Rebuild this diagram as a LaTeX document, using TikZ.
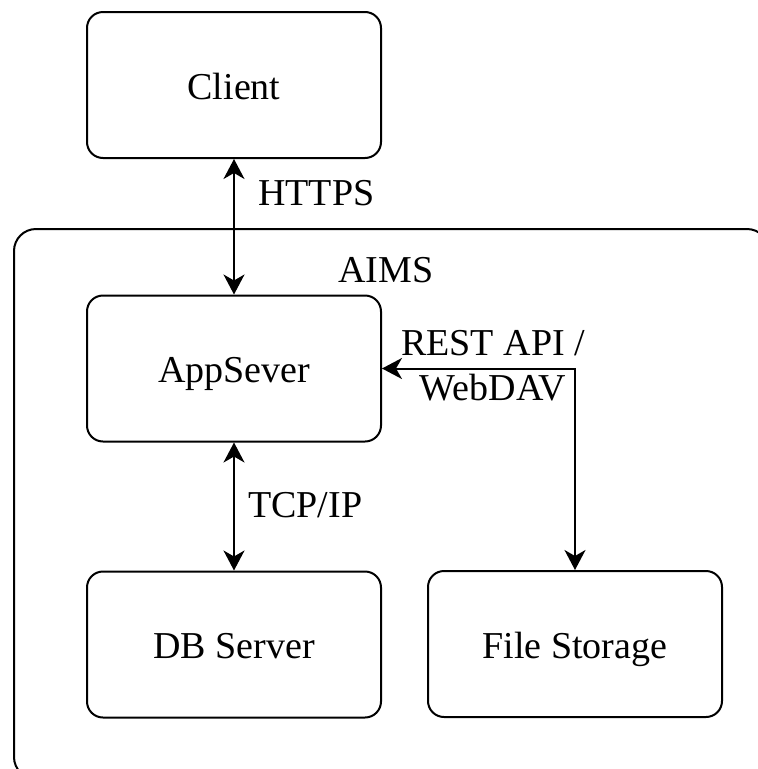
\documentclass[tikz,border=0pt]{standalone}
\usepackage{fontspec}
\setmainfont{Liberation Serif}
\usetikzlibrary{arrows.meta}
\begin{document}
\begin{tikzpicture}[x=1pt,y=-1pt,
  box/.style={draw, line width=2pt, rounded corners=16pt, minimum width=294pt, minimum height=146pt, inner sep=0pt, text height=28pt, text depth=0pt, font=\fontsize{38}{44}\selectfont},
  lbl/.style={inner sep=0pt, font=\fontsize{38}{45}\selectfont},
  conn/.style={line width=2pt, {Stealth[length=20pt,width=21pt,inset=6pt]}-{Stealth[length=20pt,width=21pt,inset=6pt]}}
]
\useasboundingbox (0,0) rectangle (758,769);
\begin{scope}
\clip (0,0) rectangle (758,769);
\draw[line width=2pt, rounded corners=22pt] (14,229) rectangle (769,779);
\end{scope}
\node[lbl, anchor=base west] (aims) at (338,282) {AIMS};
\node[box] (client) at (234,85) {Client};
\node[box] (app) at (234,368.5) {AppSever};
\node[box] (db) at (234,644.5) {DB Server};
\node[box] (fs) at (575,644) {File Storage};
\draw[conn] (client.south) -- (app.north);
\draw[conn] (app.south) -- (db.north);
\draw[conn] (app.east) -| (fs.north);
\node[lbl, anchor=base west] (https) at (258,205) {HTTPS};
\node[lbl, anchor=base west] (tcp) at (248,517) {TCP/IP};
\node[lbl, align=center, anchor=base] (rest) at (493,400) {REST API /\\WebDAV};
\end{tikzpicture}
\end{document}
